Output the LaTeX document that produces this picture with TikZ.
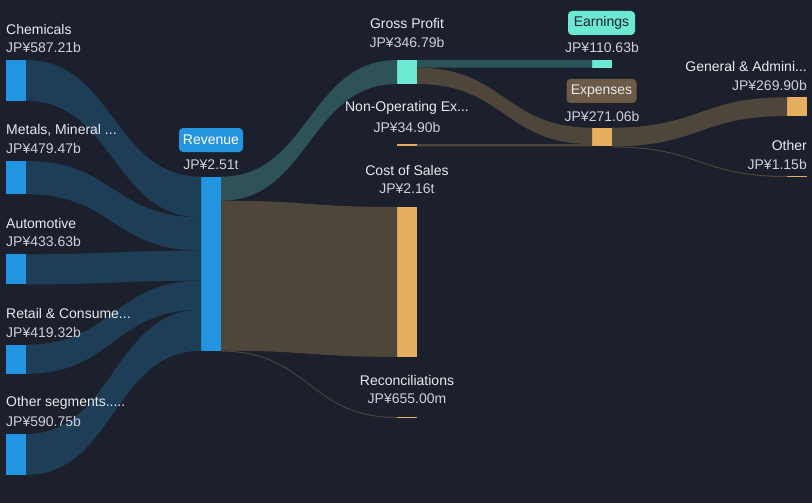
\documentclass[tikz,border=0pt]{standalone}
\usepackage{fontspec}
\setmainfont{Liberation Sans}
\usetikzlibrary{calc}
\definecolor{bgc}{HTML}{1B202C}
\definecolor{segflow}{HTML}{1E3E58}
\definecolor{bluebar}{HTML}{2394DF}
\definecolor{tealflow}{HTML}{2D5257}
\definecolor{mint}{HTML}{6DE8D3}
\definecolor{brownflow}{HTML}{4E463B}
\definecolor{orangebar}{HTML}{E6AF5F}
\definecolor{expbox}{HTML}{6B5A45}
\definecolor{lbltext}{HTML}{E8EAEE}
\definecolor{valtext}{HTML}{CDD1D7}
\tikzset{
  bar/.style={rectangle, inner sep=0pt, outer sep=0pt, minimum width=20pt, anchor=north west},
  lbl/.style={text=lbltext, font=\fontsize{14}{16}\selectfont, inner sep=0pt},
  val/.style={text=valtext, font=\fontsize{14}{16}\selectfont, inner sep=0pt},
  tag/.style={font=\fontsize{14}{16}\selectfont, rounded corners=4pt, inner sep=0pt, minimum height=24pt},
}
\newcommand\flowband[6]{%
  \fill[#6] let \p1=($(#1.north east)+(0,#2)$), \p2=($(#3.north west)+(0,#4)$),
                \p3=($(#1.north east)+(0,{#2+#5})$), \p4=($(#3.north west)+(0,{#4+#5})$) in
    (\p1) .. controls ({(\x1+\x2)/2},\y1) and ({(\x1+\x2)/2},\y2) .. (\p2)
    -- (\p4) .. controls ({(\x1+\x2)/2},\y4) and ({(\x1+\x2)/2},\y3) .. (\p3) -- cycle;}
\begin{document}
\begin{tikzpicture}[x=1pt,y=-1pt]
\useasboundingbox (0,0) rectangle (812,503);
\fill[bgc] (0,0) rectangle (812,503);
% bars
\node[bar, fill=bluebar, minimum height=40.7pt] (chem) at (6,60) {};
\node[bar, fill=bluebar, minimum height=33.2pt] (metal) at (6,161) {};
\node[bar, fill=bluebar, minimum height=30.1pt] (auto) at (6,254.3) {};
\node[bar, fill=bluebar, minimum height=29.1pt] (retail) at (6,344.7) {};
\node[bar, fill=bluebar, minimum height=41pt] (othseg) at (6,434) {};
\node[bar, fill=bluebar, minimum height=174.1pt] (rev) at (201,176.7) {};
\node[bar, fill=mint, minimum height=24pt] (gp) at (397,60) {};
\node[bar, fill=orangebar, minimum height=149.9pt] (cos) at (397,207) {};
\node[bar, fill=orangebar, minimum height=1pt] (rec) at (397,417) {};
\node[bar, fill=orangebar, minimum height=2.42pt] (nonop) at (397,144) {};
\node[bar, fill=mint, minimum height=7.67pt] (earn) at (592,60) {};
\node[bar, fill=orangebar, minimum height=18.79pt] (exp) at (592,127.7) {};
\node[bar, fill=orangebar, minimum height=18.71pt] (ga) at (787,97.3) {};
\node[bar, fill=orangebar, minimum height=1pt] (oth) at (787,176) {};
% flows
\flowband{chem}{0}{rev}{0}{40.7}{segflow}
\flowband{metal}{0}{rev}{40.7}{33.2}{segflow}
\flowband{auto}{0}{rev}{73.9}{30.1}{segflow}
\flowband{retail}{0}{rev}{104}{29.1}{segflow}
\flowband{othseg}{0}{rev}{133.1}{41}{segflow}
\flowband{rev}{0}{gp}{0}{24}{tealflow}
\flowband{rev}{24}{cos}{0}{149.9}{brownflow}
\flowband{rev}{173.9}{rec}{0}{1}{brownflow}
\flowband{gp}{0}{earn}{0}{7.67}{tealflow}
\flowband{gp}{7.67}{exp}{0}{16.37}{brownflow}
\flowband{nonop}{0}{exp}{16.37}{2.42}{brownflow}
\flowband{exp}{0}{ga}{0}{18.71}{brownflow}
\flowband{exp}{18.71}{oth}{0}{1}{brownflow}
% left labels
\node[lbl, anchor=west] (chemL) at (6,29) {Chemicals};
\node[val, anchor=west] (chemV) at (6,47.5) {JP¥587.21b};
\node[lbl, anchor=west] (metalL) at (6,130) {Metals, Mineral ...};
\node[val, anchor=west] (metalV) at (6,148.5) {JP¥479.47b};
\node[lbl, anchor=west] (autoL) at (6,223) {Automotive};
\node[val, anchor=west] (autoV) at (6,241.5) {JP¥433.63b};
\node[lbl, anchor=west] (retailL) at (6,313.5) {Retail \& Consume...};
\node[val, anchor=west] (retailV) at (6,332) {JP¥419.32b};
\node[lbl, anchor=west] (othsegL) at (6,403) {Other segments.....};
\node[val, anchor=west] (othsegV) at (6,421.5) {JP¥590.75b};
% revenue
\node[tag, fill=bluebar, text=white, minimum width=64pt] (revL) at (211,140) {Revenue};
\node[val] (revV) at (211,165) {JP¥2.51t};
% middle
\node[lbl] (gpL) at (407,23) {Gross Profit};
\node[val] (gpV) at (407,42) {JP¥346.79b};
\node[lbl] (nonopL) at (407,108) {Non-Operating Ex...};
\node[val] (nonopV) at (407,127) {JP¥34.90b};
\node[lbl] (cosL) at (407,170.5) {Cost of Sales};
\node[val] (cosV) at (407,189) {JP¥2.16t};
\node[lbl] (recL) at (407,380) {Reconciliations};
\node[val] (recV) at (407,399) {JP¥655.00m};
% earnings / expenses
\node[tag, fill=mint, text=bgc, minimum width=67pt] (earnL) at (601.5,23) {Earnings};
\node[val] (earnV) at (602,47.5) {JP¥110.63b};
\node[tag, fill=expbox, text=lbltext, minimum width=70pt] (expL) at (601.5,91) {Expenses};
\node[val] (expV) at (602,116.5) {JP¥271.06b};
% right
\node[lbl, anchor=east] (gaL) at (807,66.5) {General \& Admini...};
\node[val, anchor=east] (gaV) at (807,85) {JP¥269.90b};
\node[lbl, anchor=east] (othL) at (807,145.5) {Other};
\node[val, anchor=east] (othV) at (807,164) {JP¥1.15b};
\end{tikzpicture}
\end{document}
